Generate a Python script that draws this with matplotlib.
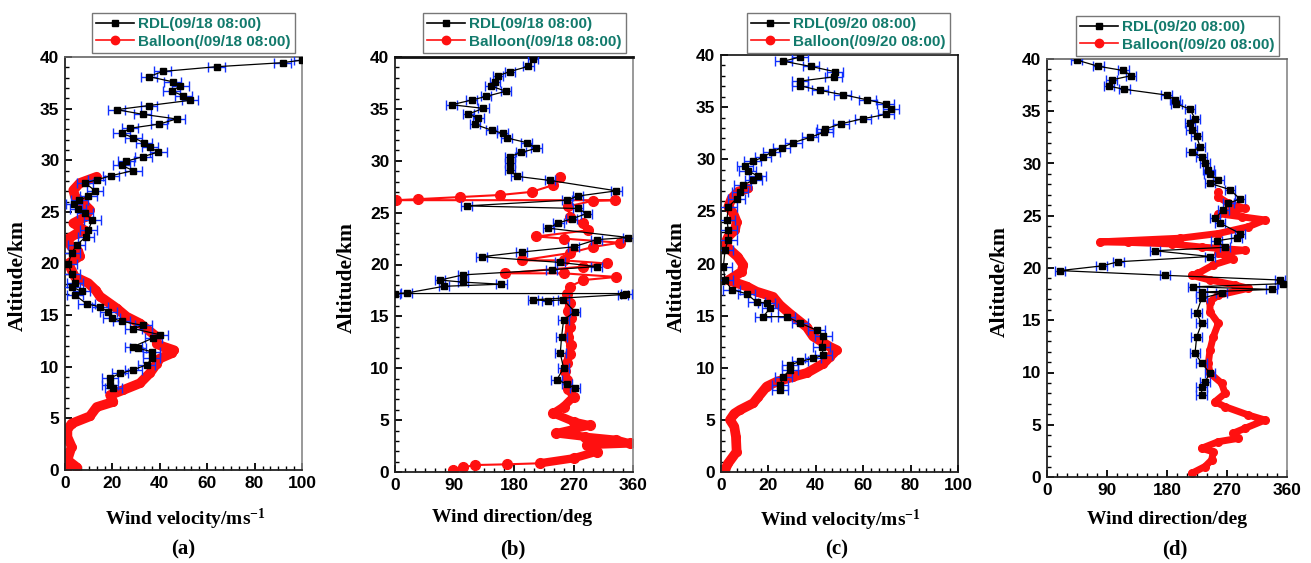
import matplotlib
matplotlib.use("Agg")
import matplotlib.pyplot as plt
from matplotlib.ticker import MultipleLocator, AutoMinorLocator
from matplotlib.lines import Line2D
import numpy as np

plt.rcParams['font.family'] = ['Liberation Sans', 'DejaVu Sans']
plt.rcParams['mathtext.fontset'] = 'custom'
plt.rcParams['mathtext.rm'] = 'Liberation Serif:bold'
plt.rcParams['mathtext.it'] = 'Liberation Serif:bold'
plt.rcParams['mathtext.bf'] = 'Liberation Serif:bold'

# ---------------- data ----------------
# Panel (a): wind velocity, 09/18
rdl_a_v = [100, 91.8, 64, 41.2, 35.4, 45.4, 48.7, 45, 49.9, 52.7, 35.4, 21.8, 32.8, 47.1, 39.7, 27.4, 23.9,
           28.8, 33.3, 35.9, 39.4, 33, 25.7, 23.9, 28.8, 19.4, 13.4, 8.4, 12.7, 9.8, 6, 3.8, 5.5, 8.4, 11.5,
           9.8, 8.9, 4.9, 2.8, 1.4, 2.8, 4.2, 2.8, 7, 4.2, 9.1, 14.8, 18.3, 19.7, 23.9, 33, 28.8, 40, 37.3,
           28.8, 30.8, 36.6, 36.6, 34.5, 28.8, 23.2, 19, 19, 20.4]
rdl_a_h = [39.7, 39.45, 39.06, 38.6, 38.1, 37.6, 37.2, 36.7, 36.25, 35.8, 35.3, 34.9, 34.45, 34.0, 33.5, 33.1,
           32.6, 32.2, 31.7, 31.25, 30.8, 30.35, 29.9, 29.5, 29.0, 28.5, 28.1, 27.8, 27.05, 26.5, 26.15, 25.8,
           25.3, 24.9, 24.2, 23.2, 22.6, 21.8, 21.0, 20.0, 19.0, 18.1, 17.75, 17.3, 16.95, 16.1, 15.8, 15.3,
           14.7, 14.4, 14.0, 13.7, 13.1, 12.8, 11.95, 11.8, 11.45, 10.8, 10.2, 9.7, 9.35, 8.9, 8.25, 7.9]
bal_a_v = [0.7, 5, 1, 2.8, 1, 1, 2.8, 10.5, 13.4, 20.4, 19, 24.6, 31.6, 35.9, 38.7, 40, 45, 46, 41.5, 38.7,
           38.7, 31.6, 26, 21.8, 14.8, 13, 9.8, 4.2, 1.4, 6.3, 5.6, 2.8, 0.7, 4.9, 8.4, 3.5, 8.4, 10.5, 7.8,
           4.2, 3.5, 6.3, 13.4]
bal_a_h = [0.0, 0.25, 0.97, 2.26, 3.2, 3.9, 4.5, 5.2, 6.1, 6.6, 7.26, 7.75, 8.4, 9.4, 10.3, 10.8, 11.3, 11.6,
           11.95, 12.2, 12.9, 14.2, 14.85, 15.66, 16.8, 17.4, 18.1, 18.7, 20.0, 20.7, 21.2, 21.6, 22.3, 22.9,
           23.2, 23.9, 24.5, 25.2, 25.8, 26.5, 27.1, 27.8, 28.4]

# Panel (b): wind direction, 09/18
rdl_b_d = [209, 201.7, 174, 156, 151, 144.8, 168, 137.7, 116, 85.8, 133.6, 111, 126, 121, 146, 163, 169, 199,
           214, 190.6, 174, 174, 174, 184, 234.5, 335, 277, 260, 108.5, 277, 290, 267, 247, 232, 353, 305,
           270, 191.6, 131, 249.6, 305, 237, 103, 68, 103, 161, 74, 17.6, 0, 350, 345, 209, 231, 254.6,
           272, 255, 252, 250, 255, 244.6, 260, 272]
rdl_b_h = [39.8, 39.1, 38.6, 38.2, 37.6, 37.2, 36.7, 36.2, 35.85, 35.4, 35.05, 34.5, 34.1, 33.5, 32.95, 32.65,
           32.2, 31.75, 31.2, 30.8, 30.4, 29.75, 29.1, 28.5, 28.1, 27.1, 26.6, 26.2, 25.65, 25.4, 24.9, 24.4,
           24.0, 23.5, 22.6, 22.4, 21.7, 21.2, 20.75, 20.2, 19.8, 19.5, 19.0, 18.5, 18.3, 18.1, 17.9, 17.25,
           17.2, 17.2, 17.1, 16.6, 16.5, 16.6, 15.45, 14.65, 13.04, 11.44, 10.0, 8.87, 8.5, 8.07]
bal_b_d = [249.6, 239.5, 206.8, 159, 98, 35, 2, 333, 300, 262, 264, 285, 292, 214, 255, 340, 300, 264, 191.6,
           255, 320, 285, 166.4, 255, 335, 285, 264, 260, 264, 262, 266, 264, 262, 266, 264, 260, 257, 260,
           262, 270, 255, 239.5, 270, 295, 243, 287, 335, 355.5, 290, 305, 270, 219, 169, 121, 103, 88]
bal_b_h = [28.46, 27.66, 27.0, 26.7, 26.5, 26.3, 26.2, 26.2, 26.15, 25.6, 24.6, 24.0, 23.3, 22.7, 22.5, 22.1,
           21.7, 21.1, 20.4, 20.4, 20.1, 19.8, 19.15, 19.15, 18.8, 18.5, 17.86, 17.2, 16.26, 15.5, 14.8, 14.0,
           13.0, 12.2, 11.4, 10.5, 9.7, 8.87, 8.0, 7.26, 6.3, 5.66, 4.85, 4.5, 3.73, 3.4, 3.1, 2.75, 2.6,
           1.96, 1.32, 0.84, 0.74, 0.67, 0.45, 0.19]

# Panel (c): wind velocity, 09/20
rdl_c_v = [33.3, 26.3, 38, 48.1, 47.5, 33.3, 33.3, 41.8, 51.3, 61.7, 69.5, 71.7, 69.7, 60, 50.6, 43.9, 43.6,
           37.6, 30.5, 25.6, 21.4, 17.8, 13.4, 10.1, 11.2, 15.5, 13.7, 9.1, 8, 6.6, 3.1, 2.5, 3.1, 3.1, 1.7,
           1, 1.7, 4.5, 10.8, 15, 19.3, 20.7, 17.8, 27.7, 33.3, 40.4, 43.2, 42.5, 43.2, 38.9, 33.3, 29.1,
           29.1, 26.3, 24.9, 24.9]
rdl_c_h = [39.8, 39.4, 38.9, 38.4, 37.9, 37.5, 37.05, 36.6, 36.2, 35.7, 35.3, 34.8, 34.3, 33.9, 33.4, 32.9,
           32.6, 32.1, 31.6, 31.1, 30.7, 30.2, 29.8, 29.35, 28.9, 28.4, 28.0, 27.5, 26.9, 26.2, 25.45, 24.2,
           23.2, 22.3, 21.3, 19.7, 18.4, 17.5, 17.1, 16.3, 16.2, 15.7, 14.9, 14.9, 14.3, 13.6, 13.0, 12.0,
           11.2, 10.9, 10.6, 10.26, 9.8, 9.14, 8.35, 7.87]
bal_c_v = [1.7, 3, 6.6, 6.3, 5.6, 3.8, 5.6, 8, 13.6, 15.7, 19.3, 23.5, 30.5, 36.2, 43.2, 46, 48.8, 46, 38.9,
           36.2, 29, 24.9, 22, 15, 10.8, 3.1, 8.7, 9.4, 7, 3.8, 1.7, 3.1, 5.9, 6.6, 5.2, 3.1, 4.5, 7.3, 11.5]
bal_c_h = [0.2, 0.83, 1.95, 3.4, 4.35, 5.0, 5.6, 5.95, 6.6, 7.2, 8.2, 8.66, 9.14, 9.5, 10.4, 11.06, 11.7, 12.0,
           13.0, 13.9, 15.2, 16.0, 16.8, 17.3, 17.8, 18.4, 19.2, 19.85, 20.65, 21.3, 21.9, 22.6, 23.2, 24.0,
           24.8, 25.45, 26.25, 26.9, 27.2]

# Panel (d): wind direction, 09/20
rdl_d_d = [44.5, 77, 114.5, 126, 97, 93, 116, 179.5, 192, 194, 214.5, 222, 214.5, 217, 224.5, 229.5, 217, 232,
           237, 242, 244, 257, 244.5, 274.5, 289.5, 272, 264.5, 252, 259.5, 289.5, 284.5, 254.5, 267, 162,
           244.5, 107, 82, 19.5, 177, 349.5, 354.5, 219.5, 337, 232, 262, 232, 224.5, 232, 224.5, 222, 232,
           244.5, 237, 232, 232]
rdl_d_h = [39.9, 39.3, 38.9, 38.4, 38.0, 37.4, 37.1, 36.55, 36.1, 35.7, 35.2, 34.3, 33.85, 33.2, 32.6, 31.6,
           31.1, 30.65, 30.0, 29.4, 29.0, 28.4, 28.1, 27.5, 26.6, 26.2, 25.55, 24.75, 24.3, 23.3, 22.9, 22.6,
           21.98, 21.65, 21.1, 20.6, 20.2, 19.75, 19.3, 18.85, 18.5, 18.2, 17.95, 17.7, 17.6, 17.1, 15.7, 14.7,
           13.4, 11.84, 10.9, 9.92, 9.12, 8.64, 7.85]
bal_d_d = [217, 237, 247, 249.5, 232, 257, 287, 279.5, 297, 327, 302, 267, 252, 267, 262, 244.5, 242, 244.5,
           249.5, 257, 244.5, 244.5, 257, 302, 282, 244.5, 217, 227, 249.5, 279.5, 257, 297, 232, 187, 122,
           79.5, 199.5, 257, 302, 327, 292, 257, 297, 272, 257, 257]
bal_d_h = [0.35, 1.0, 1.63, 2.4, 2.75, 3.38, 3.7, 4.2, 4.66, 5.45, 5.93, 6.73, 7.2, 8.0, 8.97, 9.92, 10.88,
           12.15, 13.43, 14.7, 15.8, 16.78, 17.4, 18.06, 18.37, 18.85, 19.3, 19.5, 20.3, 20.9, 21.4, 21.7,
           22.0, 22.3, 22.45, 22.5, 22.85, 23.3, 23.95, 24.6, 24.9, 25.2, 25.7, 26.2, 26.8, 27.3]

x_ticks_vel = [0, 20, 40, 60, 80, 100]
x_ticks_dir = [0, 90, 180, 270, 360]
y_ticks = [0, 5, 10, 15, 20, 25, 30, 35, 40]
err_vel = 3.5
err_dir = 8.0

legend_labels = [("RDL(09/18 08:00)", "Balloon(/09/18 08:00)"),
                 ("RDL(09/18 08:00)", "Balloon(/09/18 08:00)"),
                 ("RDL(09/20 08:00)", "Balloon(/09/20 08:00)"),
                 ("RDL(09/20 08:00)", "Balloon(/09/20 08:00)")]
panel_letters = ["(a)", "(b)", "(c)", "(d)"]

# ---------------- figure ----------------
W, H = 1311, 563
fig = plt.figure(figsize=(W / 100, H / 100), dpi=100)

def px_rect(l, t, r, b):
    return [l / W, 1 - b / H, (r - l) / W, (b - t) / H]

axes_px = [(65, 57, 302, 470), (395, 57, 633, 472), (721, 55, 958, 472), (1047, 59, 1287, 477)]
legend_px = [(92, 13), (423, 13), (747, 13), (1076, 16)]
xlabel_px = [(185, 519), (512, 517), (840, 520), (1167, 519)]
ylabel_px = [(18, 276), (347, 278), (677, 277), (1000, 282)]
letter_px = [(183, 549), (513, 549), (837, 549), (1175, 549)]

panels = [
    (rdl_a_v, rdl_a_h, bal_a_v, bal_a_h, 'vel'),
    (rdl_b_d, rdl_b_h, bal_b_d, bal_b_h, 'dir'),
    (rdl_c_v, rdl_c_h, bal_c_v, bal_c_h, 'vel'),
    (rdl_d_d, rdl_d_h, bal_d_d, bal_d_h, 'dir'),
]
band_lw = [7, 6, 7, 5]

teal = '#127a6c'
blue = '#1030ff'
red = '#ff1010'
for i, (rx, rh, bx, bh, kind) in enumerate(panels):
    ax = fig.add_axes(px_rect(*axes_px[i]))
    # balloon
    bx_arr = np.asarray(bx)
    bh_arr = np.asarray(bh)
    if i == 1:
        sel = (bh_arr > 0.8) & (bh_arr < 17.5)
        ax.plot(bx_arr[sel], bh_arr[sel], '-', color=red, lw=band_lw[i], solid_capstyle='round',
                solid_joinstyle='round', zorder=2)
        ax.plot(bx, bh, 'o-', color=red, ms=7, lw=1.5, zorder=2)
    else:
        ax.plot(bx, bh, '-', color=red, lw=band_lw[i], solid_capstyle='round', solid_joinstyle='round', zorder=2)
        ax.plot(bx, bh, 'o-', color=red, ms=5.5, lw=1.2, zorder=2)
    # RDL
    err = err_vel if kind == 'vel' else err_dir
    ax.errorbar(rx, rh, xerr=err, fmt='s-', color='black', ms=5, lw=0.9,
                ecolor=blue, elinewidth=1.0, capsize=3.5, capthick=1.0, zorder=3)

    if kind == 'vel':
        ax.set_xlim(0, 100)
        ax.set_xticks(x_ticks_vel)
        ax.xaxis.set_minor_locator(AutoMinorLocator(6))
        xl = 'Wind velocity/ms$^{-1}$'
    else:
        ax.set_xlim(0, 360)
        ax.set_xticks(x_ticks_dir)
        ax.xaxis.set_minor_locator(MultipleLocator(15))
        xl = 'Wind direction/deg'
    ax.set_ylim(0, 40)
    ax.set_yticks(y_ticks)
    ax.yaxis.set_minor_locator(MultipleLocator(1))
    ax.tick_params(which='major', direction='in', length=5, width=1.3, labelsize=12.5, pad=4)
    ax.tick_params(which='minor', direction='in', length=3, width=1.0)
    for lab in ax.get_xticklabels() + ax.get_yticklabels():
        lab.set_fontweight('bold')
    for s in ['left', 'bottom']:
        ax.spines[s].set_linewidth(1.3)
        ax.spines[s].set_color('#222222')
    ax.spines['top'].set_color('#111111' if i in (1, 2) else '#666666')
    ax.spines['top'].set_linewidth(2.0 if i == 1 else 1.2)
    ax.spines['right'].set_color('#111111' if i == 2 else '#888888')
    ax.spines['right'].set_linewidth(1.2)

    # legend
    h1 = Line2D([], [], color='black', marker='s', ms=5, lw=1.2)
    h2 = Line2D([], [], color=red, marker='o', ms=6, lw=1.2)
    lx, ly = legend_px[i]
    leg = ax.legend([h1, h2], list(legend_labels[i]), loc='upper left',
                    bbox_to_anchor=(lx / W, 1 - ly / H), bbox_transform=fig.transFigure,
                    frameon=True, fancybox=False, edgecolor='#777777', framealpha=1,
                    prop={'weight': 'bold', 'size': 11, 'family': 'Liberation Sans'},
                    labelcolor=teal, handlelength=2.5, handletextpad=0.25,
                    labelspacing=0.22, borderpad=0.28, borderaxespad=0)
    leg.get_frame().set_linewidth(1.0)
    leg.set_zorder(10)

    fx, fy = xlabel_px[i]
    fig.text(fx / W, 1 - fy / H, xl, ha='center', va='center', fontsize=14,
             family='Liberation Serif', fontweight='bold')
    fx, fy = ylabel_px[i]
    fig.text(fx / W, 1 - fy / H, 'Altitude/km', ha='center', va='center', rotation=90,
             fontsize=15.5, family='Liberation Serif', fontweight='bold')
    fx, fy = letter_px[i]
    fig.text(fx / W, 1 - fy / H, panel_letters[i], ha='center', va='center', fontsize=15,
             family='Liberation Serif', fontweight='bold')

fig.savefig('out.png', dpi=100)
